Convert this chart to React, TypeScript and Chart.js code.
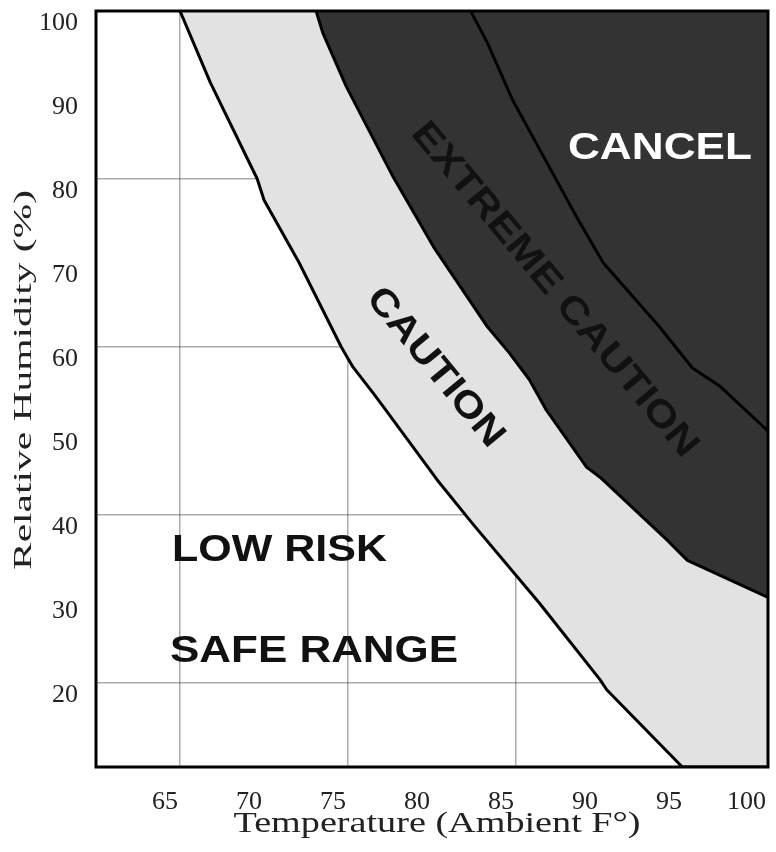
import React, { useEffect, useRef } from "react";
import { Chart, registerables } from "chart.js";

Chart.register(...registerables);

// ---- Data ----
const X_TICKS = [65, 70, 75, 80, 85, 90, 95, 100];
const Y_TICKS = [20, 30, 40, 50, 60, 70, 80, 90, 100];

// Boundary between LOW RISK and CAUTION (temperature °F, relative humidity %)
const CAUTION_T = [65, 66.8, 69.6, 70, 72.1, 74.6, 75.3, 76.5, 77.1, 80.3, 82.4, 86.4, 90, 90.4, 94.9, 100];
const CAUTION_RH = [100, 91.5, 80, 77.5, 70, 60, 57.6, 54.5, 52.9, 44.2, 39, 29.5, 20.4, 19.2, 10, 10];

// Boundary between CAUTION and EXTREME CAUTION
const EXTREME_T = [73.1, 73.5, 74.9, 77.7, 80.1, 83.3, 84.6, 85.8, 86.8, 89.2, 90, 94, 95.2, 100];
const EXTREME_RH = [100, 97.4, 91, 80.2, 71.9, 62.4, 59.3, 56.1, 52.5, 45.7, 44.5, 37, 34.6, 30.2];

// Boundary between EXTREME CAUTION and CANCEL
const CANCEL_T = [82.3, 83.3, 84.8, 87.1, 88.6, 90.2, 93.5, 95.5, 97.1, 100];
const CANCEL_RH = [100, 96.2, 89.4, 81, 75.5, 70, 62.5, 57.5, 55.4, 50];

// Zone labels anchored in data units
const ZONE_TEXT = ["LOW RISK", "SAFE RANGE", "CAUTION", "EXTREME CAUTION", "CANCEL"];
const ZONE_T = [70.92, 72.98, 80.18, 87.29, 93.57];
const ZONE_RH = [35.71, 23.63, 57.56, 66.79, 83.51];

const X_TITLE = "Temperature (Ambient F°)";
const Y_TITLE = "Relative Humidity (%)";

// ---- Styles ----
const ZONE_STYLE: Record<string, { width: number; angle: number; color: string; size: number }> = {
  "LOW RISK": { width: 215, angle: 0, color: "#111111", size: 36 },
  "SAFE RANGE": { width: 288, angle: 0, color: "#111111", size: 36 },
  CAUTION: { width: 195, angle: 50.6, color: "#111111", size: 37 },
  "EXTREME CAUTION": { width: 425, angle: 50, color: "#111111", size: 37 },
  CANCEL: { width: 184, angle: 0, color: "#ffffff", size: 36 },
};

const zip = (xs: number[], ys: number[]) => xs.map((x, i) => ({ x, y: ys[i] }));

function drawFitted(
  ctx: CanvasRenderingContext2D,
  text: string,
  cx: number,
  cy: number,
  font: string,
  width: number,
  angleDeg: number,
  color: string
) {
  ctx.save();
  ctx.font = font;
  const w = ctx.measureText(text).width;
  ctx.translate(cx, cy);
  ctx.rotate((angleDeg * Math.PI) / 180);
  ctx.scale(width / w, 1);
  ctx.textAlign = "center";
  ctx.textBaseline = "middle";
  ctx.fillStyle = color;
  ctx.fillText(text, 0, 0);
  ctx.restore();
}

const overlayPlugin = {
  id: "overlay",
  afterDraw(chart: any) {
    const { ctx, chartArea: a } = chart;
    const xs = chart.scales.x;
    const ys = chart.scales.y;

    ZONE_TEXT.forEach((t, i) => {
      const st = ZONE_STYLE[t];
      drawFitted(
        ctx,
        t,
        xs.getPixelForValue(ZONE_T[i]),
        ys.getPixelForValue(ZONE_RH[i]),
        `bold ${st.size}px "Liberation Sans", Arial, sans-serif`,
        st.width,
        st.angle,
        st.color
      );
    });

    ctx.save();
    ctx.strokeStyle = "#000";
    ctx.lineWidth = 3;
    ctx.strokeRect(a.left, a.top, a.right - a.left, a.bottom - a.top);
    ctx.restore();

    drawFitted(ctx, X_TITLE, 437, 824, `30px "Liberation Serif", serif`, 407, 0, "#222222");
    drawFitted(ctx, Y_TITLE, 24, 380, `26px "Liberation Serif", serif`, 380, -90, "#222222");
  },
};

const zeroPad = (s: any) => {
  s.paddingLeft = 0;
  s.paddingRight = 0;
  s.paddingTop = 0;
  s.paddingBottom = 0;
};

export default function App() {
  const ref = useRef<HTMLCanvasElement | null>(null);

  useEffect(() => {
    if (!ref.current) return;
    const lineBase = {
      borderColor: "#000000",
      borderWidth: 3,
      pointRadius: 0,
      tension: 0,
      borderJoinStyle: "round" as const,
      borderCapStyle: "round" as const,
    };
    const chart = new Chart(ref.current, {
      type: "line",
      data: {
        datasets: [
          { ...lineBase, label: "Cancel boundary", data: zip(CANCEL_T, CANCEL_RH), fill: false },
          {
            ...lineBase,
            label: "Extreme caution boundary",
            data: zip(EXTREME_T, EXTREME_RH),
            fill: "end",
            backgroundColor: "#333333",
          },
          {
            ...lineBase,
            label: "Caution boundary",
            data: zip(CAUTION_T, CAUTION_RH),
            fill: "end",
            backgroundColor: "#e2e2e2",
          },
        ],
      },
      options: {
        responsive: false,
        animation: false,
        layout: { padding: { top: 11, right: 8, left: 0, bottom: 0 } },
        plugins: { legend: { display: false }, tooltip: { enabled: false } },
        scales: {
          x: {
            type: "linear",
            min: 60,
            max: 100,
            z: 1,
            afterBuildTicks: (s: any) => {
              s.ticks = X_TICKS.map((v) => ({ value: v }));
            },
            afterFit: (s: any) => {
              s.height = 85;
              zeroPad(s);
            },
            border: { display: false },
            grid: {
              drawTicks: false,
              lineWidth: 1.5,
              color: (c: any) =>
                c.tick && c.tick.value % 10 === 5 ? "rgba(0,0,0,0.33)" : "rgba(0,0,0,0)",
            },
            ticks: {
              align: "end",
              labelOffset: -2,
              padding: 20,
              maxRotation: 0,
              autoSkip: false,
              color: "#222222",
              font: { family: '"Liberation Serif", serif', size: 26 },
              callback: (v: any) => String(v),
            },
          },
          y: {
            type: "linear",
            min: 10,
            max: 100,
            z: 1,
            afterBuildTicks: (s: any) => {
              s.ticks = Y_TICKS.map((v) => ({ value: v }));
            },
            afterFit: (s: any) => {
              s.width = 96;
              zeroPad(s);
            },
            border: { display: false },
            grid: {
              drawTicks: false,
              lineWidth: 1.5,
              color: (c: any) =>
                c.tick && c.tick.value % 20 === 0 && c.tick.value !== 100
                  ? "rgba(0,0,0,0.33)"
                  : "rgba(0,0,0,0)",
            },
            ticks: {
              labelOffset: 12,
              padding: 18,
              autoSkip: false,
              color: "#222222",
              font: { family: '"Liberation Serif", serif', size: 26 },
              callback: (v: any) => String(v),
            },
          },
        },
      },
      plugins: [overlayPlugin],
    });
    return () => chart.destroy();
  }, []);

  return (
    <div style={{ position: "fixed", left: 0, top: 0, width: 776, height: 852, background: "#fff" }}>
      <canvas ref={ref} width={776} height={852} style={{ display: "block" }} />
    </div>
  );
}
